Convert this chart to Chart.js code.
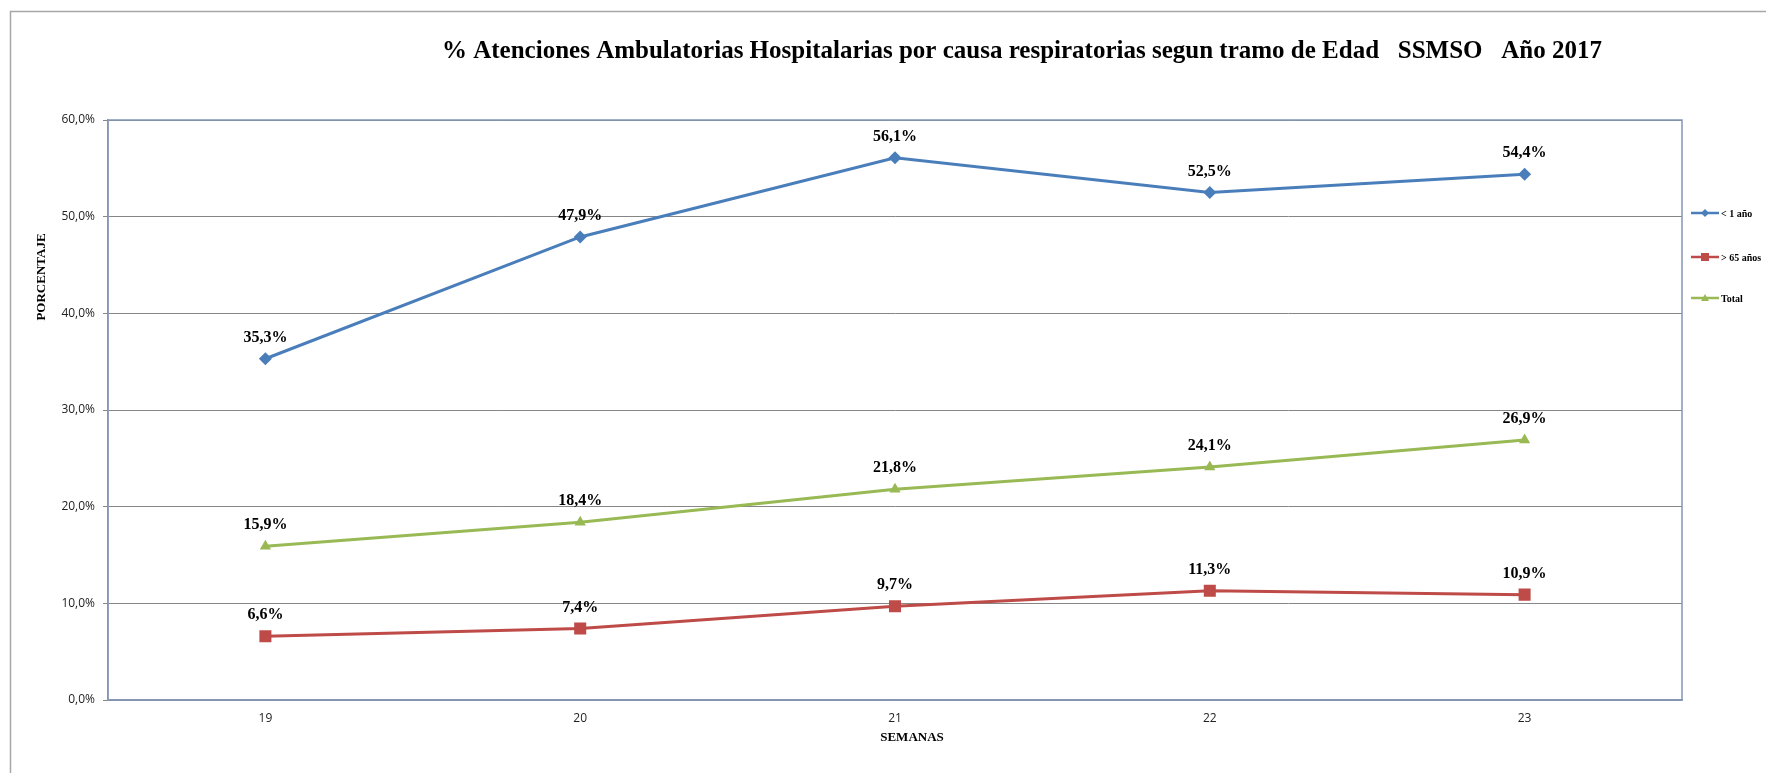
<!DOCTYPE html>
<html>
<head>
<meta charset="utf-8">
<script src="https://cdn.jsdelivr.net/npm/chart.js@4"></script>
<style>
  html, body { margin:0; padding:0; background:#fff; }
  #wrap { width:1766px; height:773px; position:relative; }
</style>
</head>
<body>
<div id="wrap"><canvas id="chart" width="1766" height="773"></canvas></div>
<script>
  // ===== Data =====
  const semanas = ['19','20','21','22','23'];
  const menor1 = [35.3, 47.9, 56.1, 52.5, 54.4];
  const mayor65 = [6.6, 7.4, 9.7, 11.3, 10.9];
  const total = [15.9, 18.4, 21.8, 24.1, 26.9];
  const seriesNames = ['< 1 año', '> 65 años', 'Total'];

  const titulo = '% Atenciones Ambulatorias Hospitalarias por causa respiratorias segun tramo de Edad   SSMSO   Año 2017';
  const serif = '"Liberation Serif", "DejaVu Serif", serif';
  const sans = '"Open Sans", "Liberation Sans", sans-serif';

  const fmt = v => v.toFixed(1).replace('.', ',') + '%';

  // ===== Extra drawing (title, frame, labels, legend) =====
  const decor = {
    id: 'decor',
    beforeDraw(chart){
      const ctx = chart.ctx;
      ctx.save();
      ctx.fillStyle = '#fff';
      ctx.fillRect(0, 0, chart.width, chart.height);
      // outer frame
      ctx.strokeStyle = '#a6a6a6';
      ctx.lineWidth = 1.5;
      ctx.beginPath();
      ctx.moveTo(10.5, chart.height);
      ctx.lineTo(10.5, 11.5);
      ctx.lineTo(chart.width, 11.5);
      ctx.stroke();
      ctx.restore();
    },
    beforeDatasetsDraw(chart){
      const { ctx, chartArea: a } = chart;
      ctx.save();
      ctx.strokeStyle = '#8497b5';
      ctx.lineWidth = 1.5;
      ctx.strokeRect(a.left, a.top, a.right - a.left, a.bottom - a.top);
      ctx.restore();
    },
    afterDatasetsDraw(chart){
      const ctx = chart.ctx;
      ctx.save();
      ctx.fillStyle = '#000';
      ctx.font = 'bold 16px ' + serif;
      ctx.textAlign = 'center';
      ctx.textBaseline = 'middle';
      chart.data.datasets.forEach((ds, i) => {
        chart.getDatasetMeta(i).data.forEach((pt, j) => {
          ctx.fillText(fmt(ds.data[j]), pt.x, pt.y - 21);
        });
      });

      // title
      ctx.font = 'bold 25px ' + serif;
      ctx.fillText(titulo, 1022, 52);

      // axis titles
      ctx.font = 'bold 13px ' + serif;
      ctx.fillText('SEMANAS', 912, 738);
      ctx.save();
      ctx.translate(42, 277);
      ctx.rotate(-Math.PI / 2);
      ctx.fillText('PORCENTAJE', 0, 0);
      ctx.restore();

      // legend
      const ys = [213, 257, 298];
      ctx.font = 'bold 10px ' + serif;
      ctx.textAlign = 'left';
      chart.data.datasets.forEach((ds, i) => {
        const y = ys[i];
        ctx.strokeStyle = ds.borderColor;
        ctx.lineWidth = 2.5;
        ctx.beginPath(); ctx.moveTo(1691, y); ctx.lineTo(1719, y); ctx.stroke();
        ctx.fillStyle = ds.borderColor;
        const cx = 1705;
        if (i === 0) {
          ctx.beginPath(); ctx.moveTo(cx, y-4); ctx.lineTo(cx+4, y); ctx.lineTo(cx, y+4); ctx.lineTo(cx-4, y); ctx.fill();
        } else if (i === 1) {
          ctx.fillRect(cx-4, y-4, 8, 8);
        } else {
          ctx.beginPath(); ctx.moveTo(cx, y-4); ctx.lineTo(cx+4, y+3); ctx.lineTo(cx-4, y+3); ctx.fill();
        }
        ctx.fillStyle = '#000';
        ctx.fillText(seriesNames[i], 1721, y + 1);
      });
      ctx.restore();
    }
  };

  const mk = (label, data, color, style, r) => ({
    label, data,
    borderColor: color, backgroundColor: color,
    borderWidth: 3, pointStyle: style, pointRadius: r, pointHoverRadius: r,
    pointBorderWidth: 0, tension: 0, fill: false
  });

  new Chart(document.getElementById('chart'), {
    type: 'line',
    data: {
      labels: semanas,
      datasets: [
        mk(seriesNames[0], menor1, '#4a7ebb', 'rectRot', 6.5),
        mk(seriesNames[1], mayor65, '#be4b48', 'rect', 8.5),
        mk(seriesNames[2], total, '#98b954', 'triangle', 6.5)
      ]
    },
    options: {
      responsive: false,
      animation: false,
      layout: { padding: { top: 120, right: 84, bottom: 0, left: 0 } },
      plugins: { legend: { display: false }, title: { display: false }, tooltip: { enabled: false } },
      scales: {
        x: {
          offset: true,
          grid: { display: false, drawTicks: false },
          border: { color: '#8497b5', width: 1.5 },
          ticks: { color: '#222', font: { family: sans, size: 12 }, padding: 11 },
          afterFit(s){ s.height = 73; }
        },
        y: {
          min: 0, max: 60,
          ticks: { stepSize: 10, color: '#222', font: { family: sans, size: 12 }, padding: 8,
                   callback: v => v.toFixed(1).replace('.', ',') + '%' },
          grid: { color: '#868686', lineWidth: 1, tickLength: 5 },
          border: { color: '#8497b5', width: 1.5 },
          afterFit(s){ s.width = 108; }
        }
      }
    },
    plugins: [decor]
  });
</script>
</body>
</html>
